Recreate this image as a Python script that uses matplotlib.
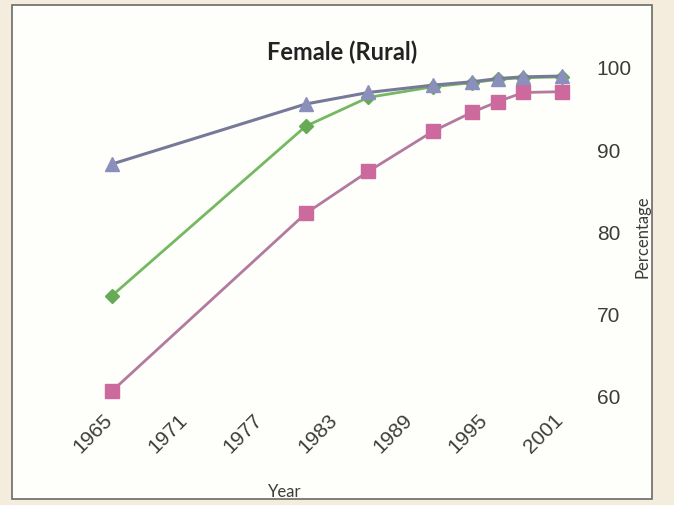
import matplotlib.pyplot as plt
import matplotlib.transforms as mtransforms
from matplotlib.patches import Rectangle

# values
years = [1965, 1980.5, 1985.5, 1990.7, 1993.8, 1995.9, 1997.9, 2001]
series_triangle = [88.2, 95.5, 96.9, 97.8, 98.2, 98.6, 98.8, 98.9]
series_green = [72.2, 92.8, 96.3, 97.6, 98.1, 98.5, 98.7, 98.8]
series_square = [60.6, 82.2, 87.3, 92.2, 94.5, 95.8, 96.9, 97.0]

x_ticks = [1965, 1971, 1977, 1983, 1989, 1995, 2001]
y_ticks = [60, 70, 80, 90, 100]

W, H = 674, 506
fig = plt.figure(figsize=(W / 100, H / 100), dpi=100)
fig.patch.set_facecolor("#f4ecdc")

# white panel of the scanned page
fig.patches.append(
    Rectangle((12 / W, 1 - 500 / H), 640 / W, 494 / H, transform=fig.transFigure,
              facecolor="#fefefb", edgecolor="#6a6a66", linewidth=1.2, zorder=-10)
)

ax = fig.add_axes([112 / W, 1 - 397 / H, 450 / W, 329 / H])
ax.set_facecolor("none")

ax.plot(years, series_green, color="#74b862", linewidth=2, marker="D",
        markersize=7, markerfacecolor="#66aa55", markeredgecolor="#66aa55",
        clip_on=False, zorder=3)
ax.plot(years, series_square, color="#b27a9e", linewidth=2, marker="s",
        markersize=10, markerfacecolor="#cc6a9e", markeredgecolor="#cc6a9e",
        clip_on=False, zorder=3)
ax.plot(years, series_triangle, color="#767a98", linewidth=2.2, marker="^",
        markersize=10, markerfacecolor="#8b8fbb", markeredgecolor="#8b8fbb",
        clip_on=False, zorder=4)

ax.set_xlim(1965, 2001)
ax.set_ylim(60, 100)
for s in ax.spines.values():
    s.set_visible(False)

ax.yaxis.tick_right()
ax.set_yticks(y_ticks)
ax.set_yticklabels([str(v) for v in y_ticks], fontsize=15,
                   family="Liberation Sans", color="#3c3c3c")
ax.tick_params(axis="y", length=0, pad=25)

ax.set_xticks(x_ticks)
ax.set_xticklabels([str(v) for v in x_ticks], fontsize=15, rotation=45,
                   ha="right", rotation_mode="anchor",
                   family="Liberation Sans", color="#3c3c3c")
ax.tick_params(axis="x", length=0, pad=4)

# nudge the slanted year labels down-left like in the scan
shift = mtransforms.ScaledTranslation(-9 / 100, -8 / 100, fig.dpi_scale_trans)
for lab in ax.get_xticklabels():
    lab.set_transform(lab.get_transform() + shift)

fig.text(342 / W, 1 - 52 / H, "Female (Rural)", ha="center", va="center",
         fontsize=17, fontweight="bold", family="Lato", color="#222222")
fig.text(285 / W, 1 - 492 / H, "Year", ha="center", va="center",
         fontsize=12, family="Lato", color="#3c3c3c")
fig.text(643 / W, 1 - 237 / H, "Percentage", ha="center", va="center",
         rotation=90, fontsize=12, family="Lato", color="#3c3c3c")

fig.savefig("out.png", dpi=100)
